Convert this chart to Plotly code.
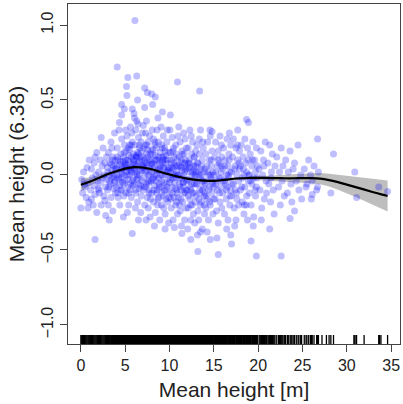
import plotly.graph_objects as go

# partial residuals, grouped by height class
pts_0_5 = [
    (0.1, -0.03), (0.2, -0.12), (0.3, 0.02), (0.5, -0.08), (0.6, -0.15), (0.7, 0.05), (0.8, -0.05),
    (0.9, -0.18), (0.4, -0.06), (0.95, 0.1),
    (1.1, -0.1), (1.2, 0.04), (1.3, -0.02), (1.4, -0.2), (1.5, 0.08), (1.5, -0.07), (1.6, -0.13),
    (1.7, 0.0), (1.8, 0.15), (1.8, -0.25), (1.9, -0.04), (1.2, -0.16), (1.6, 0.12), (1.95, -0.09),
    (2.0, 0.02), (2.1, -0.12), (2.2, 0.1), (2.2, -0.05), (2.3, -0.2), (2.4, 0.06), (2.5, -0.02),
    (2.5, 0.18), (2.6, -0.14), (2.6, 0.0), (2.7, 0.08), (2.8, -0.08), (2.8, -0.27), (2.9, 0.12),
    (2.9, -0.03), (2.3, 0.25), (2.7, -0.17), (2.05, -0.1),
    (3.0, 0.05), (3.0, -0.1), (3.1, 0.15), (3.1, -0.2), (3.2, 0.0), (3.3, 0.08), (3.3, -0.06),
    (3.4, 0.22), (3.4, -0.15), (3.5, 0.03), (3.5, -0.02), (3.6, 0.12), (3.6, -0.24), (3.7, 0.06),
    (3.7, -0.09), (3.8, 0.28), (3.8, 0.0), (3.9, -0.12), (3.9, 0.1), (3.2, -0.3), (3.5, 0.18),
    (3.85, -0.04),
    (4.0, 0.04), (4.0, -0.08), (4.1, 0.18), (4.1, 0.0), (4.2, -0.15), (4.2, 0.1), (4.3, 0.3),
    (4.3, -0.03), (4.4, 0.07), (4.4, -0.2), (4.5, 0.14), (4.5, 0.02), (4.6, -0.1), (4.6, 0.24),
    (4.7, 0.05), (4.7, -0.05), (4.8, 0.12), (4.8, -0.28), (4.9, 0.0), (4.9, 0.2), (4.15, -0.12),
    (4.35, 0.35), (4.55, -0.02), (4.75, 0.09), (4.85, -0.14), (4.95, 0.06),
]

pts_5_10 = [
    (5.0, 0.08), (5.0, -0.04), (5.1, 0.16), (5.1, -0.12), (5.2, 0.02), (5.2, 0.26), (5.3, -0.08),
    (5.3, 0.1), (5.4, 0.04), (5.4, -0.2), (5.5, 0.2), (5.5, 0.0), (5.6, -0.06), (5.6, 0.32),
    (5.7, 0.12), (5.7, -0.15), (5.8, 0.06), (5.8, 0.22), (5.9, -0.02), (5.9, 0.14), (5.05, 0.3),
    (5.15, 0.05), (5.25, -0.25), (5.35, 0.18), (5.45, 0.09), (5.55, -0.1), (5.65, 0.03),
    (5.75, 0.28), (5.85, -0.07), (5.95, 0.1),
    (6.0, 0.1), (6.0, -0.06), (6.1, 0.2), (6.1, 0.02), (6.2, -0.12), (6.2, 0.3), (6.3, 0.06),
    (6.3, -0.03), (6.4, 0.15), (6.4, -0.18), (6.5, 0.08), (6.5, 0.25), (6.6, 0.0), (6.6, -0.09),
    (6.7, 0.12), (6.7, 0.04), (6.8, -0.14), (6.8, 0.22), (6.9, 0.06), (6.9, -0.04), (6.05, 0.38),
    (6.15, -0.22), (6.25, 0.13), (6.35, 0.0), (6.45, 0.34), (6.55, -0.06), (6.65, 0.18),
    (6.75, -0.25), (6.85, 0.1), (6.95, 0.28), (6.5, -0.3), (6.3, 0.12),
    (7.0, 0.05), (7.0, -0.1), (7.1, 0.18), (7.1, -0.02), (7.2, 0.1), (7.2, -0.2), (7.3, 0.28),
    (7.3, 0.02), (7.4, -0.06), (7.4, 0.14), (7.5, 0.06), (7.5, -0.15), (7.6, 0.22), (7.6, 0.0),
    (7.7, -0.1), (7.7, 0.1), (7.8, 0.04), (7.8, -0.28), (7.9, 0.16), (7.9, -0.04), (7.05, 0.33),
    (7.15, -0.08), (7.25, 0.08), (7.35, -0.3), (7.45, 0.2), (7.55, 0.12), (7.65, -0.05),
    (7.75, 0.26), (7.85, -0.16), (7.95, 0.07), (7.4, 0.36), (7.6, -0.22),
    (8.0, 0.02), (8.0, -0.12), (8.1, 0.14), (8.1, -0.03), (8.2, 0.24), (8.2, -0.18), (8.3, 0.06),
    (8.3, -0.07), (8.4, 0.1), (8.4, -0.25), (8.5, 0.18), (8.5, 0.0), (8.6, -0.1), (8.6, 0.3),
    (8.7, 0.04), (8.7, -0.16), (8.8, 0.12), (8.8, -0.02), (8.9, -0.3), (8.9, 0.08), (8.05, 0.3),
    (8.15, 0.07), (8.25, -0.1), (8.35, 0.2), (8.45, -0.04), (8.55, 0.1), (8.65, -0.2),
    (8.75, 0.22), (8.85, -0.08), (8.95, 0.15), (8.3, -0.34), (8.7, 0.38),
    (9.0, 0.06), (9.0, -0.08), (9.1, 0.2), (9.1, -0.2), (9.2, 0.0), (9.2, 0.12), (9.3, -0.14),
    (9.3, 0.26), (9.4, 0.04), (9.4, -0.05), (9.5, 0.16), (9.5, -0.26), (9.6, 0.08), (9.6, -0.1),
    (9.7, 0.02), (9.7, 0.22), (9.8, -0.18), (9.8, 0.1), (9.9, -0.02), (9.9, -0.32), (9.05, 0.32),
    (9.15, -0.12), (9.25, 0.1), (9.35, -0.22), (9.45, 0.18), (9.55, 0.0), (9.65, -0.06),
    (9.75, 0.3), (9.85, 0.05), (9.95, -0.15), (9.5, -0.36), (9.3, 0.12),
]

pts_10_15 = [
    (10.0, 0.04), (10.0, -0.12), (10.1, 0.15), (10.1, -0.03), (10.2, -0.22), (10.2, 0.08),
    (10.3, 0.25), (10.3, -0.08), (10.4, 0.0), (10.4, -0.3), (10.5, 0.12), (10.5, -0.15),
    (10.6, 0.06), (10.6, -0.05), (10.7, 0.2), (10.7, -0.2), (10.8, -0.1), (10.8, 0.02),
    (10.9, 0.1), (10.9, -0.26), (10.05, 0.3), (10.15, -0.16), (10.25, 0.05), (10.35, -0.02),
    (10.45, 0.18), (10.55, -0.35), (10.65, 0.0), (10.75, 0.14), (10.85, -0.12), (10.95, 0.26),
    (11.0, 0.0), (11.0, -0.15), (11.1, 0.12), (11.1, -0.06), (11.2, 0.22), (11.2, -0.24),
    (11.3, 0.05), (11.3, -0.1), (11.4, 0.16), (11.4, -0.02), (11.5, -0.18), (11.5, 0.08),
    (11.6, 0.28), (11.6, -0.08), (11.7, 0.02), (11.7, -0.3), (11.8, 0.1), (11.8, -0.12),
    (11.9, 0.18), (11.9, -0.04), (11.05, 0.32), (11.15, -0.2), (11.25, 0.06), (11.35, -0.34),
    (11.45, 0.14), (11.55, -0.05), (11.65, 0.0), (11.75, 0.24), (11.85, -0.22), (11.95, 0.06),
    (12.0, 0.04), (12.0, -0.1), (12.1, 0.18), (12.1, -0.22), (12.2, -0.04), (12.2, 0.1),
    (12.3, 0.3), (12.3, -0.16), (12.4, 0.02), (12.4, -0.3), (12.5, 0.14), (12.5, -0.06),
    (12.6, -0.12), (12.6, 0.22), (12.7, 0.06), (12.7, -0.26), (12.8, -0.02), (12.8, 0.12),
    (12.9, -0.18), (12.9, 0.0), (12.05, -0.36), (12.15, 0.08), (12.35, -0.08), (12.45, 0.26),
    (12.55, -0.2), (12.75, 0.04), (12.85, -0.32), (12.95, 0.16),
    (13.0, 0.02), (13.0, -0.14), (13.1, 0.2), (13.1, -0.06), (13.2, -0.24), (13.2, 0.08),
    (13.3, 0.0), (13.3, -0.3), (13.4, 0.14), (13.4, -0.1), (13.5, 0.3), (13.5, -0.02),
    (13.6, -0.18), (13.6, 0.06), (13.7, 0.1), (13.7, -0.36), (13.8, -0.08), (13.8, 0.18),
    (13.9, -0.14), (13.9, 0.02), (13.15, -0.4), (13.35, 0.24), (13.45, -0.2), (13.65, -0.04),
    (13.75, 0.22), (13.95, -0.26),
    (14.0, 0.04), (14.0, -0.12), (14.1, -0.22), (14.1, 0.14), (14.2, -0.04), (14.3, 0.22),
    (14.3, -0.16), (14.4, 0.0), (14.4, -0.3), (14.5, 0.1), (14.5, -0.08), (14.6, 0.26),
    (14.6, -0.2), (14.7, -0.02), (14.7, 0.06), (14.8, -0.12), (14.8, 0.16), (14.9, -0.26),
    (14.9, 0.02), (14.25, -0.38), (14.55, 0.3), (14.85, -0.06),
]

pts_15_20 = [
    (15.0, 0.0), (15.0, -0.16), (15.1, 0.12), (15.2, -0.06), (15.2, 0.22), (15.3, -0.24),
    (15.4, 0.06), (15.4, -0.1), (15.5, 0.16), (15.5, -0.32), (15.6, -0.02), (15.6, 0.08),
    (15.7, -0.18), (15.7, 0.26), (15.8, 0.02), (15.8, -0.08), (15.9, 0.12), (15.9, -0.22),
    (15.35, -0.42), (15.85, 0.2),
    (16.0, 0.04), (16.0, -0.12), (16.1, 0.18), (16.2, -0.04), (16.2, -0.26), (16.3, 0.1),
    (16.4, 0.0), (16.4, -0.16), (16.5, 0.24), (16.5, -0.08), (16.6, 0.06), (16.6, -0.3),
    (16.7, -0.02), (16.7, 0.14), (16.8, -0.2), (16.8, 0.02), (16.9, 0.2), (16.9, -0.1),
    (16.45, -0.36), (16.75, 0.28),
    (17.0, 0.02), (17.0, -0.14), (17.1, 0.12), (17.2, -0.06), (17.2, 0.24), (17.3, -0.22),
    (17.4, 0.06), (17.4, -0.1), (17.5, 0.18), (17.5, -0.3), (17.6, 0.0), (17.6, -0.16),
    (17.7, 0.1), (17.7, 0.3), (17.8, -0.04), (17.8, -0.2), (17.9, 0.16), (17.9, 0.04),
    (17.35, -0.34), (17.65, 0.2),
    (18.0, 0.06), (18.0, -0.1), (18.1, 0.2), (18.2, -0.02), (18.2, -0.18), (18.3, 0.12),
    (18.4, 0.0), (18.4, -0.26), (18.5, 0.24), (18.5, -0.08), (18.6, 0.08), (18.7, -0.14),
    (18.7, 0.02), (18.8, 0.18), (18.8, -0.3), (18.9, -0.04), (18.9, 0.1), (18.45, -0.2),
    (19.0, 0.0), (19.0, -0.12), (19.1, 0.14), (19.2, -0.2), (19.3, 0.06), (19.3, -0.06),
    (19.4, 0.22), (19.5, -0.02), (19.5, -0.28), (19.6, 0.1), (19.7, -0.14), (19.7, 0.02),
    (19.8, 0.18), (19.8, -0.08), (19.9, 0.06), (19.45, -0.34),
]

pts_20_plus = [
    (20.1, 0.04), (20.2, -0.1), (20.3, 0.16), (20.4, -0.22), (20.5, 0.0), (20.6, 0.1),
    (20.7, -0.16), (20.8, 0.22), (20.9, -0.04), (20.35, -0.3), (20.65, 0.06), (20.95, -0.12),
    (21.1, 0.08), (21.2, -0.06), (21.3, 0.2), (21.4, -0.18), (21.5, 0.02), (21.6, 0.14),
    (21.7, -0.1), (21.8, -0.26), (21.9, 0.06), (21.45, -0.02),
    (22.1, 0.12), (22.3, -0.08), (22.4, 0.02), (22.5, -0.2), (22.6, 0.18), (22.7, -0.04),
    (22.8, 0.06), (22.95, -0.14),
    (23.1, 0.1), (23.3, -0.12), (23.4, 0.02), (23.6, 0.16), (23.7, -0.06), (23.8, -0.18),
    (23.95, 0.04),
    (24.1, 0.08), (24.3, -0.04), (24.5, 0.2), (24.6, -0.1), (24.8, 0.0), (24.9, -0.16),
    (25.2, 0.04), (25.4, -0.08), (25.7, 0.1), (25.9, 0.0),
    (26.1, -0.04), (26.3, 0.06), (26.6, -0.1), (26.8, 0.02),
]

# the dense core of the cloud around the fitted curve
pts_core = [
    (3.05, 0.02), (3.25, -0.04), (3.45, 0.07), (3.65, -0.01), (3.85, 0.04), (3.15, -0.08),
    (3.55, 0.1), (3.75, -0.05),
    (4.05, 0.06), (4.25, -0.02), (4.45, 0.09), (4.65, 0.01), (4.85, -0.06), (4.12, 0.12),
    (4.38, -0.07), (4.62, 0.04), (4.88, 0.15), (4.5, -0.1),
    (5.02, 0.1), (5.22, 0.0), (5.42, 0.13), (5.62, 0.05), (5.82, -0.04), (5.12, 0.07),
    (5.32, -0.03), (5.52, 0.17), (5.72, 0.02), (5.92, 0.08), (5.4, -0.12), (5.68, 0.2),
    (6.02, 0.04), (6.22, 0.12), (6.42, -0.02), (6.62, 0.09), (6.82, 0.16), (6.12, 0.07),
    (6.32, 0.02), (6.52, 0.14), (6.72, -0.07), (6.92, 0.03), (6.18, -0.1), (6.58, 0.2),
    (7.02, 0.12), (7.22, 0.03), (7.42, 0.08), (7.62, -0.04), (7.82, 0.14), (7.12, 0.06),
    (7.32, -0.08), (7.52, 0.17), (7.72, 0.0), (7.92, 0.1), (7.28, 0.2), (7.68, -0.12),
    (8.02, 0.08), (8.22, -0.02), (8.42, 0.13), (8.62, 0.03), (8.82, -0.06), (8.12, 0.17),
    (8.32, 0.0), (8.52, -0.12), (8.72, 0.1), (8.92, 0.04), (8.38, 0.22), (8.78, -0.15),
    (9.02, 0.0), (9.22, 0.08), (9.42, -0.1), (9.62, 0.13), (9.82, 0.03), (9.12, -0.04),
    (9.32, 0.05), (9.52, 0.1), (9.72, -0.08), (9.92, 0.15), (9.18, 0.18), (9.58, -0.16),
    (10.02, -0.05), (10.22, 0.1), (10.42, 0.04), (10.62, -0.09), (10.82, 0.06), (10.12, 0.02),
    (10.32, -0.12), (10.52, 0.08), (10.72, -0.02), (10.92, 0.0), (10.38, 0.16), (10.78, -0.18),
    (11.02, 0.06), (11.22, -0.08), (11.42, 0.03), (11.62, -0.12), (11.82, 0.04), (11.12, -0.02),
    (11.32, 0.1), (11.52, -0.05), (11.72, 0.08), (11.92, -0.1), (11.28, -0.16), (11.68, 0.14),
    (12.02, -0.03), (12.22, 0.05), (12.42, -0.1), (12.62, 0.02), (12.82, -0.06), (12.12, -0.14),
    (12.32, 0.08), (12.52, 0.0), (12.72, -0.12), (12.92, 0.06), (12.38, -0.2), (12.78, 0.12),
    (13.02, -0.06), (13.22, 0.02), (13.42, -0.12), (13.62, 0.0), (13.82, -0.04), (13.12, 0.08),
    (13.32, -0.16), (13.52, 0.04), (13.72, -0.1), (13.92, -0.2),
    (14.02, -0.06), (14.22, 0.06), (14.42, -0.1), (14.62, 0.0), (14.82, -0.04), (14.12, -0.14),
    (14.32, 0.02), (14.52, -0.18), (14.72, 0.1),
    (15.02, -0.08), (15.22, 0.02), (15.42, -0.04), (15.62, -0.12), (15.82, 0.06), (15.12, -0.16),
    (15.52, 0.1), (15.72, -0.02),
    (16.02, -0.04), (16.22, 0.06), (16.42, -0.1), (16.62, 0.0), (16.82, -0.14), (16.32, -0.06),
    (16.72, 0.1),
    (17.05, -0.06), (17.35, 0.04), (17.55, -0.12), (17.85, 0.08), (18.15, -0.08), (18.35, 0.04),
    (18.65, -0.2), (18.95, 0.0), (19.15, -0.04), (19.35, 0.1), (19.65, -0.1), (19.85, -0.02),
]

pts_outliers = [
    (6.1, 1.03), (4.1, 0.72), (5.3, 0.65), (6.3, 0.66), (5.15, 0.59), (10.9, 0.62), (13.4, 0.56),
    (7.2, 0.58), (7.5, 0.55), (8.0, 0.54), (8.4, 0.52), (5.2, 0.53), (6.4, 0.5), (4.6, 0.47),
    (4.9, 0.44), (7.2, 0.45), (8.1, 0.47), (5.8, 0.44), (6.0, 0.41), (9.2, 0.42), (10.1, 0.4),
    (4.6, 0.4), (6.3, 0.36), (18.7, 0.37), (18.9, 0.35), (14.8, 0.29), (26.7, 0.24),
    (28.5, 0.14), (30.9, 0.02), (34.6, -0.11), (31.1, -0.15), (33.6, -0.08), (28.2, -0.12),
    (26.0, -0.16), (26.1, -0.13), (1.6, -0.43), (5.8, -0.39), (13.2, -0.51), (15.5, -0.53),
    (19.8, -0.54), (22.6, -0.54), (19.2, -0.44), (17.0, -0.46), (12.4, -0.43), (14.6, -0.43),
    (11.4, -0.39), (13.5, -0.38), (16.9, -0.4), (24.1, -0.24), (23.6, -0.29), (21.3, -0.36),
    (0.0, -0.22), (0.8, -0.22), (26.7, -0.08), (25.5, -0.06),
]

# extra rug ticks for the tall stands
rug_extra = [27.2, 27.7, 28.0, 28.5, 30.8, 31.05, 31.95, 33.7, 33.85, 34.6]

# smooth term s(Mean height) and its 2*SE band
smooth_x = [0, 1, 2, 3, 4, 5, 6, 7, 8, 9, 10, 11, 12, 13, 14, 15, 16, 17, 18, 19, 20, 21,
            22, 23, 24, 25, 26, 27, 28, 29, 30, 31, 32, 33, 34, 34.6]
smooth_fit = [-0.065, -0.045, -0.02, 0.005, 0.025, 0.042, 0.052, 0.05, 0.038, 0.02, 0.003,
              -0.012, -0.024, -0.033, -0.038, -0.039, -0.034, -0.027, -0.022, -0.02, -0.019,
              -0.02, -0.021, -0.022, -0.022, -0.021, -0.021, -0.024, -0.034, -0.048, -0.064,
              -0.081, -0.098, -0.115, -0.131, -0.14]
smooth_se = [0.045, 0.028, 0.02, 0.016, 0.014, 0.013, 0.012, 0.011, 0.011, 0.01, 0.01, 0.01,
             0.01, 0.01, 0.01, 0.01, 0.01, 0.01, 0.011, 0.012, 0.013, 0.015, 0.018, 0.022,
             0.026, 0.03, 0.034, 0.038, 0.043, 0.05, 0.057, 0.066, 0.076, 0.087, 0.097, 0.103]

x_ticks = [0, 5, 10, 15, 20, 25, 30, 35]
y_ticks = [-1.0, -0.5, 0.0, 0.5, 1.0]

all_pts = pts_0_5 + pts_5_10 + pts_10_15 + pts_15_20 + pts_20_plus + pts_core + pts_outliers
px_ = [p[0] for p in all_pts]
py_ = [p[1] for p in all_pts]

YMIN, YMAX = -1.127, 1.14

lo = [f - s for f, s in zip(smooth_fit, smooth_se)]
hi = [f + s for f, s in zip(smooth_fit, smooth_se)]

rug_x = sorted(set(px_ + rug_extra))
rx, ry = [], []
for v in rug_x:
    rx += [v, v, None]
    ry += [YMIN, YMIN + 0.06, None]

fig = go.Figure()
fig.add_trace(go.Scatter(x=smooth_x + smooth_x[::-1], y=hi + lo[::-1], fill="toself",
                         fillcolor="#bebebe", line=dict(width=0), mode="lines",
                         hoverinfo="skip"))
fig.add_trace(go.Scatter(x=px_, y=py_, mode="markers",
                         marker=dict(size=7, color="rgba(0,0,255,0.25)", line=dict(width=0))))
fig.add_trace(go.Scatter(x=smooth_x, y=smooth_fit, mode="lines",
                         line=dict(color="black", width=2.2, shape="spline")))
fig.add_trace(go.Scatter(x=rx, y=ry, mode="lines", line=dict(color="black", width=1.3)))

axis_common = dict(showline=True, mirror=True, linecolor="#444", linewidth=1.4,
                   ticks="outside", ticklen=7, tickcolor="#444", tickwidth=1,
                   showgrid=False, zeroline=False, automargin=False,
                   tickfont=dict(family="Liberation Sans, Arial", size=16, color="#222"))

fig.update_layout(
    width=403, height=404,
    margin=dict(l=68, r=3, t=4, b=60),
    paper_bgcolor="white", plot_bgcolor="white",
    showlegend=False,
    font=dict(family="Liberation Sans, Arial", color="#222"),
    xaxis=dict(range=[-1.45, 36.0], tickvals=x_ticks,
               title=dict(text="Mean height [m]", font=dict(size=21), standoff=8),
               **axis_common),
    yaxis=dict(range=[YMIN, YMAX], tickvals=y_ticks, tickformat=".1f", tickangle=-90,
               title=dict(text="Mean height (6.38)", font=dict(size=21), standoff=9),
               **axis_common),
)

# drop the page's default body margin so the 403x404 figure fills the window
fig.write_html("out.html", config={"displayModeBar": False},
               post_script="document.body.style.margin='0';")
